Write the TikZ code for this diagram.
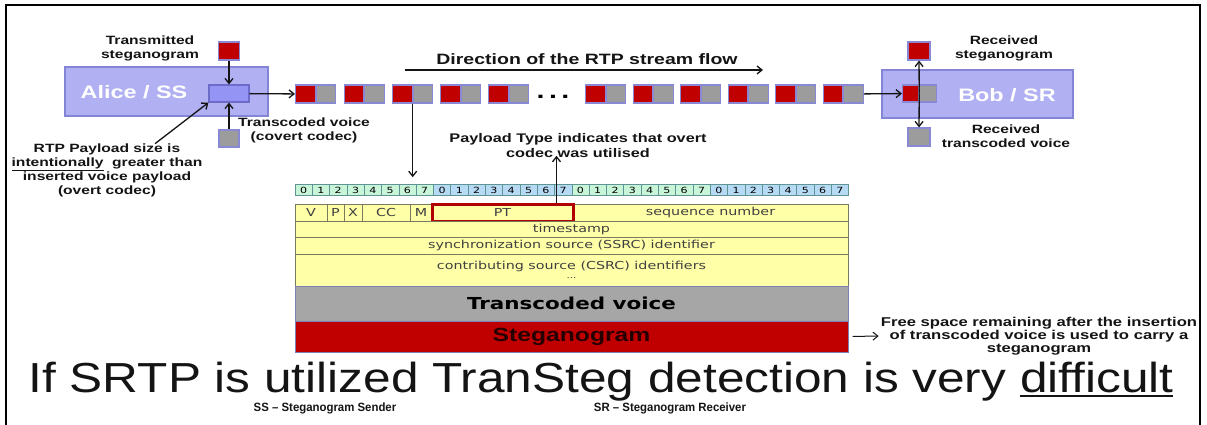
\documentclass[tikz,border=0pt]{standalone}
\usepackage{fontspec}
\setmainfont{Liberation Sans}
\newfontfamily\lblfont{Liberation Sans}[FakeStretch=1.3]
\newfontfamily\tblfont{DejaVu Sans}[FakeStretch=1.3]
\newfontfamily\headfont{Liberation Sans}[FakeStretch=1.18]
\newfontfamily\keyfont{Liberation Sans}[FakeStretch=0.95]
\usetikzlibrary{positioning,arrows.meta,calc}
\definecolor{inkblack}{HTML}{141414}
\definecolor{hostfill}{HTML}{B0B0F2}
\definecolor{hostline}{HTML}{8585D8}
\definecolor{buffill}{HTML}{9494F4}
\definecolor{bufline}{HTML}{6C6CC8}
\definecolor{stegred}{HTML}{C00000}
\definecolor{voicegrey}{HTML}{9C9C9C}
\definecolor{pktline}{HTML}{8888D4}
\definecolor{bitgreen}{HTML}{C8F4D8}
\definecolor{bitblue}{HTML}{B6D9F4}
\definecolor{bitline}{HTML}{5E9494}
\definecolor{hdryellow}{HTML}{FFFFA8}
\definecolor{hdrline}{HTML}{7A7A5C}
\definecolor{barline}{HTML}{7E7EB8}
\definecolor{ptline}{HTML}{B00000}
\newcommand{\ulword}[1]{\vtop{\hbox{#1}\kern2.5pt\hrule height 1.8pt}}
\tikzset{
  ts host/.style={draw=hostline, line width=1.5pt, fill=hostfill, inner sep=0pt},
  ts buf/.style={draw=bufline, line width=1.2pt, fill=buffill, minimum width=40pt, minimum height=17pt, inner sep=0pt},
  ts red/.style={draw=pktline, line width=1.2pt, fill=stegred, minimum height=18pt, inner sep=0pt},
  ts grey/.style={ts red, fill=voicegrey},
  ts arr/.style={-{Straight Barb[length=5pt,width=8pt]}, line width=1.3pt, inkblack},
  ts lbl/.style={font=\lblfont\bfseries\fontsize{12}{14}\selectfont, align=center, inner sep=0pt, text=inkblack},
  ts name/.style={font=\lblfont\bfseries\fontsize{18}{20}\selectfont, text=white, inner sep=0pt},
  ts bit/.style={draw=bitline, line width=0.6pt, minimum width=17.3pt, minimum height=11pt, inner sep=0pt,
                 font=\tblfont\fontsize{8.5}{9}\selectfont},
  ts hdr/.style={draw=hdrline, line width=0.7pt, fill=hdryellow, inner sep=0pt,
                 font=\tblfont\fontsize{11}{12}\selectfont, text=black!75},
  ts bar/.style={draw=barline, line width=1pt, inner sep=0pt, minimum width=553pt},
}
\begin{document}
\begin{tikzpicture}[x=1pt, y=-1pt,
  hcell/.style={ts hdr, minimum height=17pt}]
  \useasboundingbox (0,0) rectangle (1207,425);
  \draw[black, line width=1.6pt] (6,425) -- (6,5) -- (1200,5) -- (1200,425);
  % sender side
  \node[ts host, minimum width=203pt, minimum height=49pt] (alice) at (166.5,91.5) {};
  \node[ts name] (alicename) at (134,92) {Alice / SS};
  \node[ts buf] (sendpl) at (229,93.5) {};
  \node[ts red, minimum width=21pt] (stegoin) at (229,51) {};
  \node[ts grey, minimum width=20pt, minimum height=17pt] (voicein) at (229,138.5) {};
  \node[ts lbl] (txsteg) at (150,48.5) {Transmitted\\steganogram};
  \node[ts lbl] (tcvoice) at (304,130) {Transcoded voice\\(covert codec)};
  \node[ts lbl] (rtpnote) at (107,170.5) {RTP Payload size is\\\underline{intentionally}\ \ greater than\\inserted voice payload\\(overt codec)};
  % packet stream
  \foreach \n/\x in {1/295,2/343.5,3/392,4/440,5/488,6/585,7/632.5,8/680,9/727.5,10/775,11/822.5}{
    \node[ts red, minimum width=19.5pt, anchor=west] (r\n) at (\x,94) {};
    \node[ts grey, minimum width=19.5pt, right=0pt of r\n] (g\n) {};
  }
  \node[font=\lblfont\bfseries\fontsize{22}{22}\selectfont, inner sep=0pt] (dots) at (553,97) {.\hspace{4.5pt}.\hspace{4.5pt}.};
  \node[ts lbl, font=\lblfont\bfseries\fontsize{15}{17}\selectfont] (flowlbl) at (587,59) {Direction of the RTP stream flow};
  \coordinate (flowa) at (405,70);
  \coordinate (flowb) at (763,70);
  % receiver side
  \node[ts host, minimum width=191pt, minimum height=48pt] (bob) at (977.5,94) {};
  \node[ts name] (bobname) at (1007,95) {Bob / SR};
  \node[ts red, minimum width=16pt, minimum height=17pt, anchor=west] (rb) at (902,93.5) {};
  \node[ts grey, minimum width=17pt, minimum height=17pt, right=0pt of rb] (gb) {};
  \coordinate (bobsplit) at (rb.east);
  \node[ts red, minimum width=22pt] (stegoout) at (919,51) {};
  \node[ts grey, minimum width=22pt] (voiceout) at (919,137) {};
  \node[ts lbl] (rxsteg) at (1004,48.5) {Received\\steganogram};
  \node[ts lbl] (rxvoice) at (1006,136.5) {Received\\transcoded voice};
  % RTP header
  \foreach \i in {0,...,31}{
    \pgfmathtruncatemacro\bitno{mod(\i,8)}
    \pgfmathtruncatemacro\grp{mod(int(\i/8),2)}
    \ifnum\grp=0 \def\bitfill{bitgreen}\else\def\bitfill{bitblue}\fi
    \node[ts bit, fill=\bitfill] (b\i) at ({303.65+17.3*\i},190) {\bitno};
  }
  \node[hcell, minimum width=32pt] (fv) at (311,212.5) {V};
  \node[hcell, minimum width=17pt] (fp) at (335.5,212.5) {P};
  \node[hcell, minimum width=18pt] (fx) at (353,212.5) {X};
  \node[hcell, minimum width=48pt] (fcc) at (386,212.5) {CC};
  \node[hcell, minimum width=22pt] (fm) at (421,212.5) {M};
  \node[hcell, minimum width=275pt] (fseq) at (710.5,212.5) {sequence number};
  \node[hcell, minimum width=141pt, draw=ptline, line width=3pt] (fpt) at (502.5,212.5) {PT};
  \node[ts hdr, minimum width=553pt, minimum height=16pt] (tsrow) at (571.5,229) {timestamp};
  \node[hcell, minimum width=553pt] (ssrc) at (571.5,245.5) {synchronization source (SSRC) identifier};
  \node[ts hdr, minimum width=553pt, minimum height=32pt, align=center] (csrc) at (571.5,270) {contributing source (CSRC) identifiers\\[-3pt]{\fontsize{8}{8}\selectfont ...}};
  \node[ts bar, fill=voicegrey!90, minimum height=35pt, font=\tblfont\bfseries\fontsize{16.5}{18}\selectfont] (voicebar) at (571.5,303.5) {Transcoded voice};
  \node[ts bar, fill=stegred, minimum height=31pt, font=\lblfont\bfseries\fontsize{19}{21}\selectfont, text=black!85!red] (stegobar) at (571.5,336.5) {Steganogram};
  \node[ts lbl, font=\lblfont\bfseries\fontsize{12.5}{15}\selectfont] (ptnote) at (578,145.5) {Payload Type indicates that overt\\codec was utilised};
  \node[ts lbl, font=\lblfont\bfseries\fontsize{12.8}{13}\selectfont] (freenote) at (1039,336) {Free space remaining after the insertion\\of transcoded voice is used to carry a\\steganogram};
  % bottom lines
  \node[font=\headfont\fontsize{42}{46}\selectfont, inner sep=0pt, text=inkblack, anchor=base] (verdict) at (601,392) {If SRTP is utilized TranSteg detection is very \ulword{difficult}};
  \node[font=\keyfont\bfseries\fontsize{12}{14}\selectfont, inner sep=0pt, text=inkblack] (sskey) at (325,408) {SS – Steganogram Sender};
  \node[font=\keyfont\bfseries\fontsize{12}{14}\selectfont, inner sep=0pt, text=inkblack] (srkey) at (670,408) {SR – Steganogram Receiver};
  % connectors
  \foreach \a/\b in {stegoin/sendpl,voicein/sendpl,sendpl/r1,g11/rb,bobsplit/stegoout,bobsplit/voiceout,flowa/flowb}
    \draw[ts arr] (\a) -- (\b);
  \draw[ts arr] ([xshift=48pt]rtpnote.north) -- (sendpl.south west);
  \draw[ts arr] (r3.south east) -- (r3.south east |- b6.north) [shorten >=7pt];
  \draw[ts arr] ([xshift=-18pt]fpt.north east) -- ([xshift=-18pt]fpt.north east |- ptnote.south) [shorten >=-2pt];
  \draw[ts arr, line width=1pt] (stegobar.east) -- (freenote.west) [shorten <=4pt, shorten >=2pt];
\end{tikzpicture}
\end{document}
